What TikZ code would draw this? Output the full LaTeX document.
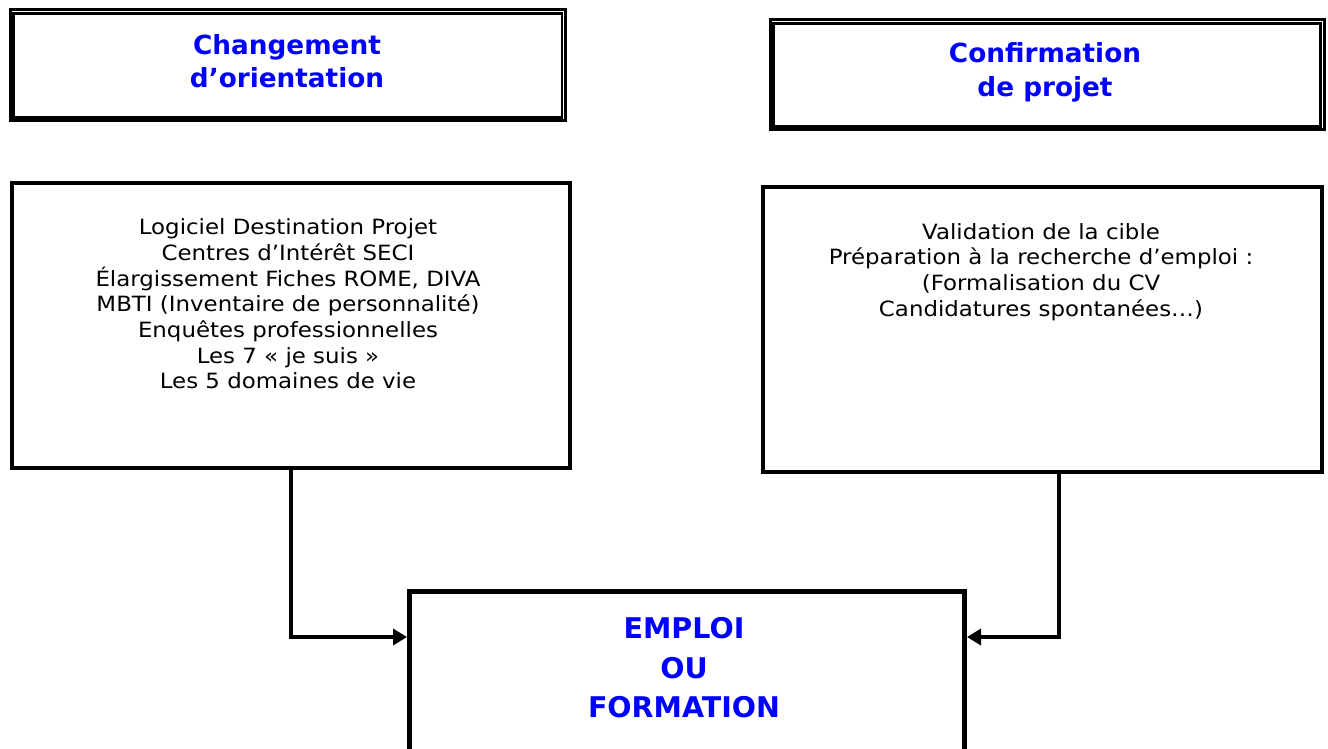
\documentclass[tikz,border=0pt]{standalone}
\usepackage{fontspec}
\setmainfont{DejaVu Sans}
\newfontfamily\bodyfont{DejaVu Sans}[FakeStretch=1.09]
\usetikzlibrary{arrows.meta}
\definecolor{titleblue}{RGB}{0,0,255}
\begin{document}
\begin{tikzpicture}[x=1pt,y=-1pt,
  outerbox/.style={draw, line width=3pt, inner sep=0pt, anchor=north west},
  innerline/.style={line width=2.5pt},
  plainbox/.style={draw, line width=4pt, inner sep=0pt, anchor=north west},
  title/.style={text=titleblue, font=\fontsize{26.3}{33}\selectfont\bfseries, align=center},
  body/.style={font=\bodyfont\fontsize{21}{25.7}\selectfont, align=center},
  big/.style={text=titleblue, font=\fontsize{28.5}{39.5}\selectfont\bfseries, align=center},
  conn/.style={line width=4pt, -{Triangle[length=14pt,width=16pt]}},
]
\useasboundingbox (0,0) rectangle (1328,749);
\clip (0,0) rectangle (1328,749);
% top-left double box
\node[outerbox, minimum width=555.5pt, minimum height=111pt] (tl) at (8.5,8.5) {};
\draw[innerline] ([shift={(5pt,-5pt)}]tl.north west) rectangle ([shift={(-5pt,5pt)}]tl.south east);
% top-right double box
\node[outerbox, minimum width=554pt, minimum height=110pt] (tr) at (768.5,18.5) {};
\draw[innerline] ([shift={(5pt,-5pt)}]tr.north west) rectangle ([shift={(-5pt,5pt)}]tr.south east);
% middle boxes
\node[plainbox, minimum width=558pt, minimum height=285pt] (ml) at (10,181) {};
\node[plainbox, minimum width=559pt, minimum height=285pt] (mr) at (761,185) {};
% bottom box
\node[plainbox, line width=5pt, minimum width=555pt, minimum height=200pt] (bot) at (407,589) {};
% texts
\node[title] (tlt) at (287,61) {Changement\\d’orientation};
\node[title, font=\fontsize{26.3}{34}\selectfont\bfseries] (trt) at (1045,72) {Confirmation\\de projet};
\node[body] (mlt) at (288,304) {Logiciel Destination Projet\\Centres d’Intérêt SECI\\Élargissement Fiches ROME, DIVA\\MBTI (Inventaire de personnalité)\\Enquêtes professionnelles\\Les 7 « je suis »\\Les 5 domaines de vie};
\node[body] (mrt) at (1041,272) {Validation de la cible\\Préparation à la recherche d’emploi :\\(Formalisation du CV\\Candidatures spontanées…)};
\node[big] (bt) at (684,668) {EMPLOI\\OU\\FORMATION};
% connectors
\draw[conn] (ml.south) |- ([yshift=-48pt]bot.north west);
\draw[conn] ([xshift=16.5pt]mr.south) |- ([yshift=-48pt]bot.north east);
\end{tikzpicture}
\end{document}
